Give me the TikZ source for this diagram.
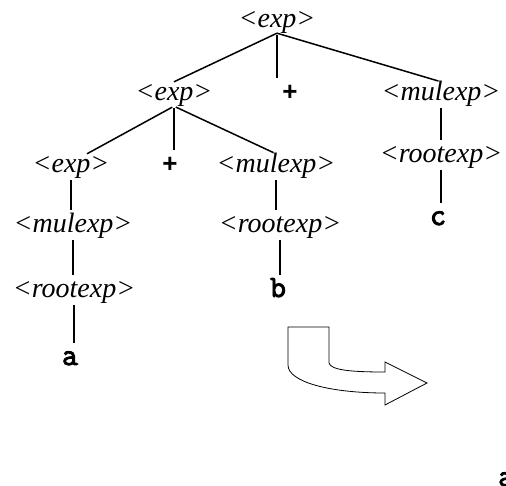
\documentclass[tikz,border=0pt]{standalone}
\usepackage{fontspec}
\setmainfont{Liberation Serif}
\newfontfamily\opfont{Liberation Sans}
\newfontfamily\termfont[FakeBold=3]{Latin Modern Mono}
\usetikzlibrary{positioning}

\begin{document}
\begin{tikzpicture}[x=1pt,y=-1pt,
    nonterm/.style={anchor=base,inner sep=0pt,text height=18pt,text depth=6pt,
        font=\fontsize{28}{32}\selectfont\itshape},
    term/.style={anchor=base,inner sep=0pt,text height=18pt,text depth=6pt,
        font=\fontsize{31}{34}\selectfont\termfont},
    oper/.style={anchor=base,inner sep=0pt,text height=18pt,text depth=6pt,
        font=\fontsize{26}{30}\selectfont\opfont\bfseries},
    edge/.style={line width=1.5pt}]
            \useasboundingbox (0,0) rectangle (506,485);

            % Top of the tree
            \node[nonterm] (root) at (277,27) {<exp>};
            \node[nonterm] (e2) at (174,100) {<exp>};
            \node[oper] (p2) at (290,100) {+};
            \node[nonterm] (m2) at (441,100) {<mulexp>};
            \node[nonterm] (r2) at (441,162) {<rootexp>};
            \node[term] (c) at (438,225) {c};

            % Second level
            \node[nonterm] (e3) at (71,172) {<exp>};
            \node[oper] (p3) at (170,172) {+};
            \node[nonterm] (m3) at (276,172) {<mulexp>};

            % Left chain
            \node[nonterm] (m4) at (73,232) {<mulexp>};
            \node[nonterm] (r5) at (74,297) {<rootexp>};
            \node[term] (a) at (70,365) {a};

            % Middle chain
            \node[nonterm] (r4) at (280,232) {<rootexp>};
            \node[term] (b) at (278,297) {b};

            % Slanted edges
            \draw[edge] (root.south) -- (e2.north);
            \draw[edge, shorten >=3pt] (root.south) -- (m2.north);
            \draw[edge, shorten <=2pt] (e2.south) -- ([xshift=16pt]e3.north);
            \draw[edge, shorten <=2pt, shorten >=3pt] (e2.south) -- (m3.north);

            % Vertical edges
            \foreach \u/\v in {root/p2,e2/p3,m2/r2,r2/c,e3/m4,m4/r5,r5/a,m3/r4,r4/b} {
                \draw[edge, shorten <=2pt, shorten >=4pt] (\u.south) -- (\u.south |- \v.north);
            }

            % Bent arrow
            \draw[line width=0.8pt, line join=miter] (288,327) -- (329,327) -- (329,363)
                .. controls (331,370) and (350,372) .. (385,372) -- (385,362) -- (427,383)
                -- (385,405) -- (385,393)
                .. controls (330,393) and (288,382) .. (288,365) -- cycle;

            % Cut off letter at the edge
            \node[term, anchor=base west] (acut) at (498,486) {a};
\end{tikzpicture}
\end{document}
